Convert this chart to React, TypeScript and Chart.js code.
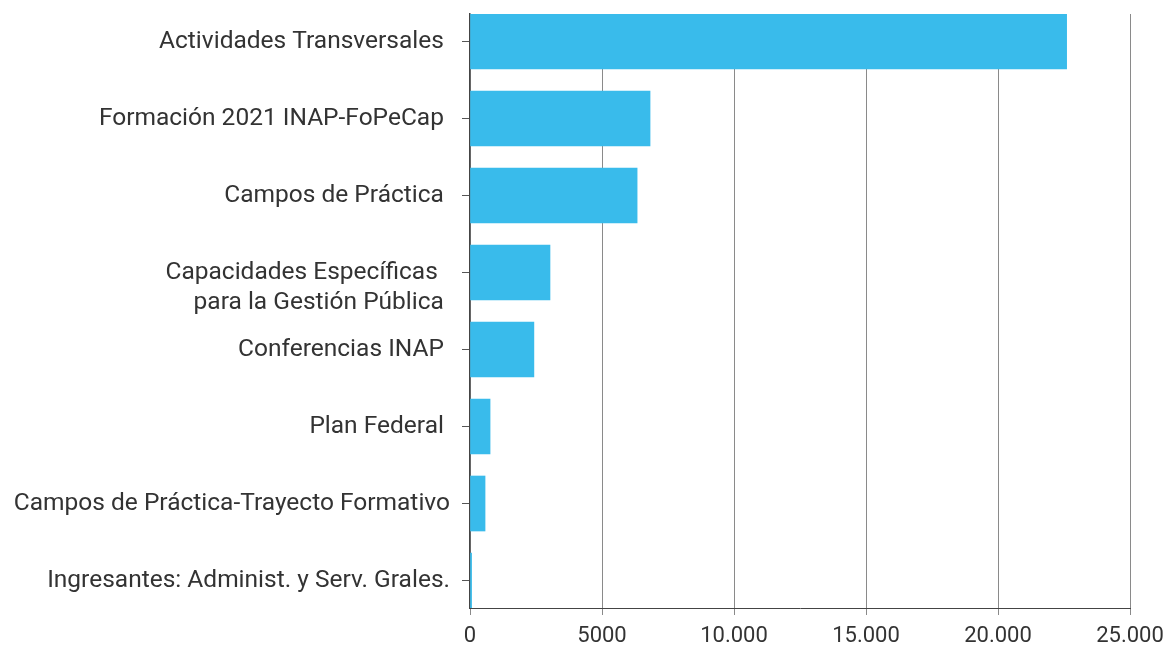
import React, { useEffect, useRef } from 'react';
import { Chart, registerables } from 'chart.js';
Chart.register(...registerables);

const categories: (string | string[])[] = [
  'Actividades Transversales ',
  'Formación 2021 INAP-FoPeCap ',
  'Campos de Práctica ',
  ['', 'Capacidades Específicas  ', 'para la Gestión Pública '],
  'Conferencias INAP ',
  'Plan Federal ',
  'Campos de Práctica-Trayecto Formativo',
  'Ingresantes: Administ. y Serv. Grales.',
];
const values = [22600, 6820, 6330, 3030, 2420, 760, 570, 60];
const xTickValues = [0, 5000, 10000, 15000, 20000, 25000];
const xTickLabels = ['0', '5000', '10.000', '15.000', '20.000', '25.000'];

export default function App() {
  const ref = useRef<HTMLCanvasElement>(null);
  useEffect(() => {
    document.body.style.margin = '0';
    const textColor = '#333333';
    const data = values.map((v, i) => ({ x: v, y: i }));
    const chart = new Chart(ref.current!, {
      type: 'bar',
      data: {
        datasets: [
          { data, backgroundColor: '#39bbeb', barThickness: 55, borderWidth: 0 } as any,
        ],
      },
      options: {
        indexAxis: 'y',
        animation: false,
        responsive: false,
        maintainAspectRatio: false,
        layout: { padding: { top: 14, right: 40, bottom: 0, left: 0 } },
        plugins: { legend: { display: false }, tooltip: { enabled: false } },
        scales: {
          x: {
            type: 'linear',
            position: 'bottom',
            min: 0,
            max: 25000,
            afterBuildTicks: (s: any) => {
              s.ticks = xTickValues.map((v) => ({ value: v }));
            },
            afterFit: (s: any) => {
              s.height = 38;
              s.paddingRight = 0;
              s.paddingLeft = 0;
            },
            ticks: {
              callback: (v: any) => xTickLabels[xTickValues.indexOf(Number(v))] ?? '',
              font: { family: 'Roboto', size: 22 },
              color: textColor,
              padding: 8,
              maxRotation: 0,
              autoSkip: false,
            },
            grid: { color: '#8a8a8a', tickLength: 7, lineWidth: 1 },
            border: { color: '#444444', width: 1 },
          },
          y: {
            type: 'linear',
            reverse: true,
            offset: false,
            min: -0.357,
            max: 7.357,
            afterBuildTicks: (s: any) => {
              s.ticks = categories.map((_, i) => ({ value: i }));
            },
            afterFit: (s: any) => {
              s.width = 470;
              s.paddingTop = 0;
              s.paddingBottom = 0;
            },
            ticks: {
              callback: (v: any) => categories[Number(v)] as any,
              font: { family: 'Roboto', size: 24.5, lineHeight: 1.22 },
              color: textColor,
              padding: 12,
              autoSkip: false,
            },
            grid: { drawOnChartArea: false, offset: false, tickLength: 8, color: '#555555' },
            border: { color: '#444444', width: 1.5 },
          },
        },
      } as any,
    });
    return () => chart.destroy();
  }, []);
  return (
    <div style={{ width: 1170, height: 646 }}>
      <canvas ref={ref} width={1170} height={646} />
    </div>
  );
}
